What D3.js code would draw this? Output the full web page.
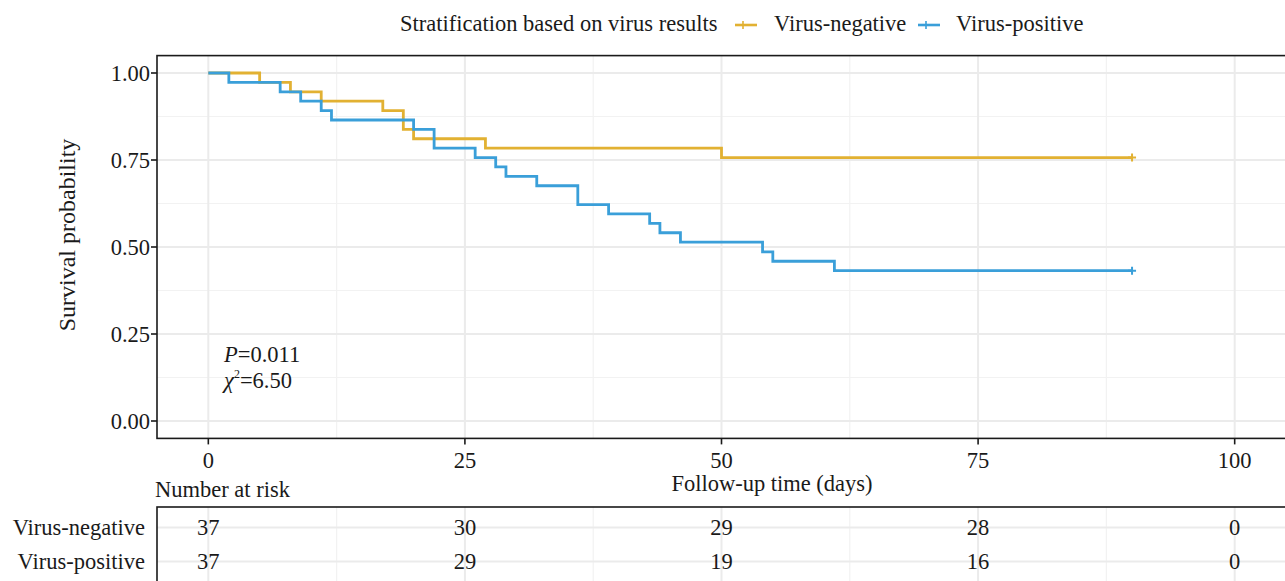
<!DOCTYPE html>
<html>
<head>
<meta charset="utf-8">
<script src="https://cdn.jsdelivr.net/npm/d3@7"></script>
<style>
  html, body { margin: 0; padding: 0; background: #fff; overflow: hidden; }
  svg { display: block; }
  text { font-family: "Liberation Serif", "Times New Roman", serif; fill: #1a1a1a; }
</style>
</head>
<body>
<div id="chart"></div>
<script>
// ---------------- data ----------------
const groups = ["Virus-negative", "Virus-positive"];
const colors = ["#E2B132", "#3A9FD9"];

const negTimes = [0, 5, 8, 11, 17, 19, 20, 27, 50, 90];
const negSurv  = [1.000, 0.973, 0.946, 0.919, 0.892, 0.838, 0.811, 0.784, 0.757, 0.757];

const posTimes = [0, 2, 7, 9, 11, 12, 20, 22, 26, 28, 29, 32, 36, 39, 43, 44, 46, 54, 55, 61, 90];
const posSurv  = [1.000, 0.973, 0.946, 0.919, 0.892, 0.865, 0.838, 0.784, 0.757, 0.730, 0.703, 0.676, 0.622, 0.595, 0.568, 0.541, 0.514, 0.486, 0.459, 0.432, 0.432];

const censorTimes = [90, 90];
const censorSurv  = [0.757, 0.432];

const xTicks = [0, 25, 50, 75, 100];
const yTicks = [0, 0.25, 0.5, 0.75, 1];
const yTickLabels = ["0.00", "0.25", "0.50", "0.75", "1.00"];

const riskTimes = [0, 25, 50, 75, 100];
const negRisk = [37, 30, 29, 28, 0];
const posRisk = [37, 29, 19, 16, 0];

const pText = "0.011";
const chiText = "6.50";

// ---------------- layout ----------------
const W = 1285, H = 581;
const FS = 22.5;
const panelL = 157, panelR = 1387, panelT = 55.6, panelB = 438.4;
const tabT = 507, tabB = 581.8;

const svg = d3.select("#chart").append("svg").attr("width", W).attr("height", H);

const x = d3.scaleLinear().domain([-5, 105]).range([panelL, 1286]);
const y = d3.scaleLinear().domain([-0.05, 1.05]).range([panelB, panelT]);
const yRow = d3.scaleLinear().domain([0.4, 2.6]).range([tabT, tabB]);

const minorX = [12.5, 37.5, 62.5, 87.5, 112.5];
const minorY = [0.125, 0.375, 0.625, 0.875];

// ---------------- main panel ----------------
const g = svg.append("g");
g.selectAll(".gxm").data(minorX).join("line")
  .attr("x1", d => x(d)).attr("x2", d => x(d)).attr("y1", panelT).attr("y2", panelB)
  .attr("stroke", "#F2F2F2").attr("stroke-width", 1.2);
g.selectAll(".gym").data(minorY).join("line")
  .attr("x1", panelL).attr("x2", panelR).attr("y1", d => y(d)).attr("y2", d => y(d))
  .attr("stroke", "#F2F2F2").attr("stroke-width", 1.2);
g.selectAll(".gx").data(xTicks).join("line")
  .attr("x1", d => x(d)).attr("x2", d => x(d)).attr("y1", panelT).attr("y2", panelB)
  .attr("stroke", "#EBEBEB").attr("stroke-width", 2);
g.selectAll(".gy").data(yTicks).join("line")
  .attr("x1", panelL).attr("x2", panelR).attr("y1", d => y(d)).attr("y2", d => y(d))
  .attr("stroke", "#EBEBEB").attr("stroke-width", 2);

// curves
const line = d3.line().x(d => x(d[0])).y(d => y(d[1])).curve(d3.curveStepAfter);
const series = [d3.zip(negTimes, negSurv), d3.zip(posTimes, posSurv)];
series.forEach((s, i) => {
  g.append("path").datum(s).attr("d", line)
    .attr("fill", "none").attr("stroke", colors[i]).attr("stroke-width", 2.8)
    .attr("stroke-linejoin", "miter");
});
// censor marks
censorTimes.forEach((t, i) => {
  const cx = x(t), cy = y(censorSurv[i]);
  g.append("path").attr("d", `M${cx - 4},${cy}H${cx + 4}M${cx},${cy - 4}V${cy + 4}`)
    .attr("stroke", colors[i]).attr("stroke-width", 2);
});

// panel border
g.append("rect").attr("x", panelL).attr("y", panelT)
  .attr("width", panelR - panelL).attr("height", panelB - panelT)
  .attr("fill", "none").attr("stroke", "#1a1a1a").attr("stroke-width", 1.6);

// y axis
yTicks.forEach((v, i) => {
  g.append("line").attr("x1", panelL - 6).attr("x2", panelL).attr("y1", y(v)).attr("y2", y(v))
    .attr("stroke", "#1a1a1a").attr("stroke-width", 1.6);
  g.append("text").attr("x", panelL - 7).attr("y", y(v)).attr("dy", "0.35em")
    .attr("text-anchor", "end").attr("font-size", FS).text(yTickLabels[i]);
});
g.append("text").attr("transform", `translate(75,${(panelT + panelB) / 2 - 12}) rotate(-90)`)
  .attr("text-anchor", "middle").attr("font-size", 24).text("Survival probability");

// x axis
xTicks.forEach(v => {
  g.append("line").attr("x1", x(v)).attr("x2", x(v)).attr("y1", panelB).attr("y2", panelB + 6)
    .attr("stroke", "#1a1a1a").attr("stroke-width", 1.6);
  g.append("text").attr("x", x(v)).attr("y", 468).attr("text-anchor", "middle")
    .attr("font-size", FS).text(v);
});
g.append("text").attr("x", 772).attr("y", 491).attr("text-anchor", "middle")
  .attr("font-size", FS).text("Follow-up time (days)");

// p-value annotation
const pt = g.append("text").attr("x", 224).attr("y", 362).attr("font-size", FS);
pt.append("tspan").attr("font-style", "italic").text("P");
pt.append("tspan").text("=" + pText);
const ct = g.append("text").attr("x", 224).attr("y", 388).attr("font-size", FS);
ct.append("tspan").attr("font-style", "italic").text("χ");
ct.append("tspan").attr("font-size", 12).attr("dy", -10).text("2");
ct.append("tspan").attr("dy", 10).text("=" + chiText);

// ---------------- legend ----------------
const lg = svg.append("g");
lg.append("text").attr("x", 400).attr("y", 31).attr("font-size", FS)
  .text("Stratification based on virus results");
const keyX = [735, 918], labX = [774, 956];
groups.forEach((name, i) => {
  lg.append("line").attr("x1", keyX[i]).attr("x2", keyX[i] + 22).attr("y1", 25).attr("y2", 25)
    .attr("stroke", colors[i]).attr("stroke-width", 2.6);
  lg.append("path").attr("d", `M${keyX[i] + 8},21V29M${keyX[i] + 4},25H${keyX[i] + 12}`)
    .attr("stroke", colors[i]).attr("stroke-width", 1.6);
  lg.append("text").attr("x", labX[i]).attr("y", 31).attr("font-size", FS).text(name);
});

// ---------------- risk table ----------------
const tg = svg.append("g");
tg.append("text").attr("x", 155).attr("y", 497).attr("font-size", FS).text("Number at risk");
tg.selectAll(".tgxm").data(minorX).join("line")
  .attr("x1", d => x(d)).attr("x2", d => x(d)).attr("y1", tabT).attr("y2", tabB)
  .attr("stroke", "#F2F2F2").attr("stroke-width", 1.2);
tg.selectAll(".tgx").data(xTicks).join("line")
  .attr("x1", d => x(d)).attr("x2", d => x(d)).attr("y1", tabT).attr("y2", tabB)
  .attr("stroke", "#EBEBEB").attr("stroke-width", 2);
tg.selectAll(".tgy").data([1, 2]).join("line")
  .attr("x1", panelL).attr("x2", panelR).attr("y1", d => yRow(d)).attr("y2", d => yRow(d))
  .attr("stroke", "#EBEBEB").attr("stroke-width", 2);
tg.append("rect").attr("x", panelL).attr("y", tabT)
  .attr("width", panelR - panelL).attr("height", tabB - tabT)
  .attr("fill", "none").attr("stroke", "#1a1a1a").attr("stroke-width", 1.6);

[negRisk, posRisk].forEach((vals, r) => {
  tg.append("text").attr("x", 145).attr("y", yRow(r + 1)).attr("dy", "0.35em")
    .attr("text-anchor", "end").attr("font-size", FS).text(groups[r]);
  riskTimes.forEach((t, k) => {
    tg.append("text").attr("x", x(t)).attr("y", yRow(r + 1)).attr("dy", "0.35em")
      .attr("text-anchor", "middle").attr("font-size", FS).text(vals[k]);
  });
});
</script>
</body>
</html>
